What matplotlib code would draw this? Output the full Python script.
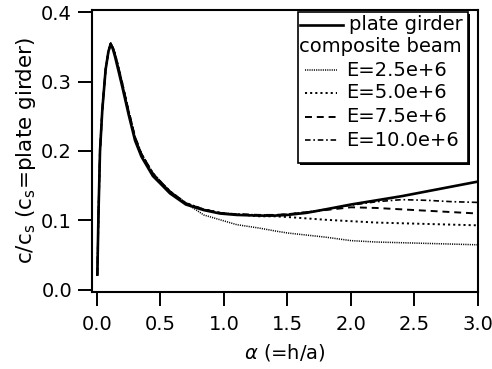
import matplotlib
matplotlib.use("Agg")
import matplotlib.pyplot as plt
from matplotlib.patches import Rectangle
from matplotlib.lines import Line2D

plt.rcParams['font.family'] = ['DejaVu Sans']
plt.rcParams['lines.scale_dashes'] = False
plt.rcParams['mathtext.fontset'] = 'dejavusans'

# ---- data ----
alpha = [0.003, 0.012, 0.024, 0.042, 0.068, 0.09, 0.108, 0.125, 0.142, 0.17,
         0.2, 0.25, 0.3, 0.35, 0.44, 0.5, 0.575, 0.7, 0.84, 0.97,
         1.1, 1.28, 1.4, 1.5, 1.65, 1.8, 2.0, 2.2, 2.4, 2.6, 2.8, 3.0]

plate_girder = [0.022, 0.110, 0.200, 0.259, 0.317, 0.343, 0.354, 0.347, 0.336, 0.315,
                0.292, 0.252, 0.215, 0.192, 0.164, 0.153, 0.139, 0.123, 0.115, 0.110,
                0.108, 0.107, 0.107, 0.108, 0.111, 0.116, 0.123, 0.129, 0.135, 0.142, 0.149, 0.156]

e_10_0 = [0.022, 0.110, 0.200, 0.259, 0.317, 0.343, 0.355, 0.349, 0.340, 0.320,
          0.297, 0.257, 0.220, 0.196, 0.168, 0.156, 0.142, 0.125, 0.116, 0.111,
          0.109, 0.108, 0.108, 0.109, 0.112, 0.116, 0.122, 0.127, 0.130, 0.129, 0.127, 0.126]

e_7_5 = [0.022, 0.110, 0.200, 0.259, 0.317, 0.343, 0.355, 0.349, 0.340, 0.320,
         0.297, 0.257, 0.220, 0.196, 0.168, 0.156, 0.142, 0.125, 0.116, 0.111,
         0.109, 0.108, 0.108, 0.109, 0.112, 0.115, 0.119, 0.118, 0.116, 0.114, 0.112, 0.110]

e_5_0 = [0.022, 0.110, 0.200, 0.259, 0.317, 0.343, 0.355, 0.349, 0.340, 0.320,
         0.297, 0.257, 0.220, 0.196, 0.168, 0.156, 0.142, 0.125, 0.116, 0.111,
         0.109, 0.106, 0.106, 0.105, 0.103, 0.101, 0.099, 0.097, 0.096, 0.095, 0.094, 0.093]

e_2_5 = [0.022, 0.110, 0.200, 0.259, 0.317, 0.343, 0.355, 0.349, 0.340, 0.320,
         0.297, 0.257, 0.220, 0.196, 0.168, 0.156, 0.142, 0.125, 0.108, 0.101,
         0.094, 0.089, 0.085, 0.082, 0.079, 0.076, 0.071, 0.069, 0.068, 0.067, 0.066, 0.065]

x_ticks = [0.0, 0.5, 1.0, 1.5, 2.0, 2.5, 3.0]
y_ticks = [0.0, 0.1, 0.2, 0.3, 0.4]
legend_labels = ["plate girder", "composite beam", "E=2.5e+6", "E=5.0e+6", "E=7.5e+6", "E=10.0e+6"]

# ---- styles ----
styles = [
    dict(color='black', lw=1.1, dashes=(0.8, 0.8)),            # E=2.5e+6
    dict(color='black', lw=1.4, dashes=(1.5, 2.2)),            # E=5.0e+6
    dict(color='black', lw=1.4, dashes=(5.0, 3.5)),            # E=7.5e+6
    dict(color='black', lw=1.2, dashes=(4.0, 2.0, 1.2, 2.0)),  # E=10.0e+6
]
solid_style = dict(color='black', lw=1.9, linestyle='-')

fig = plt.figure(figsize=(4.92, 3.69), dpi=100)
ax = fig.add_axes([91.5 / 492, (369 - 291.5) / 369, (478 - 91.5) / 492, (291.5 - 10) / 369])

series = [e_2_5, e_5_0, e_7_5, e_10_0]
for vals, st in zip(series, styles):
    ax.plot(alpha, vals, **st)
ax.plot(alpha, plate_girder, **solid_style)

ax.set_xlim(-0.043, 3.0)
ax.set_ylim(-0.0022, 0.4029)
ax.set_xticks(x_ticks)
ax.set_xticklabels([f"{v:.1f}" for v in x_ticks])
ax.set_yticks(y_ticks)
ax.set_yticklabels([f"{v:.1f}" for v in y_ticks])
ax.tick_params(direction='out', length=10, width=1.4, labelsize=14, pad=4)
ax.tick_params(axis='x', pad=7)
for s in ax.spines.values():
    s.set_linewidth(1.5)

ax.set_xlabel(r"$\alpha$ (=h/a)", fontsize=14, labelpad=6)
ax.set_ylabel(r"c/c$_\mathregular{s}$ (c$_\mathregular{s}$=plate girder)", fontsize=15.5, labelpad=2)

# ---- legend (drawn manually to match reference layout) ----
def axx(px):
    return (px - 91.5) / 386.5

def axy(py):
    return (291.5 - py) / 281.5

bx0, bx1 = axx(298), axx(468)
by0, by1 = axy(163), axy(12)
shadow = Rectangle((bx0 + 1.8 / 386.5, by0 - 1.8 / 281.5), bx1 - bx0, by1 - by0,
                   transform=ax.transAxes, facecolor='black', edgecolor='black', lw=0, zorder=5)
ax.add_patch(shadow)
box = Rectangle((bx0, by0), bx1 - bx0, by1 - by0, transform=ax.transAxes,
                facecolor='white', edgecolor='black', lw=1.2, zorder=6)
ax.add_patch(box)

rows_py = [25, 47, 70, 93, 117, 140]
# row 1: plate girder
ax.add_line(Line2D([axx(300), axx(343)], [axy(rows_py[0])] * 2, transform=ax.transAxes,
                   zorder=7, **solid_style))
ax.text(axx(349), axy(rows_py[0]), legend_labels[0], transform=ax.transAxes, fontsize=14,
        va='center', ha='left', zorder=7)
# row 2: composite beam header
ax.text(axx(299.5), axy(rows_py[1]), legend_labels[1], transform=ax.transAxes, fontsize=14,
        va='center', ha='left', zorder=7)
# rows 3-6
for i, st in enumerate(styles):
    py = rows_py[i + 2]
    ax.add_line(Line2D([axx(305), axx(337)], [axy(py)] * 2, transform=ax.transAxes,
                       zorder=7, **st))
    ax.text(axx(346), axy(py), legend_labels[i + 2], transform=ax.transAxes, fontsize=14,
            va='center', ha='left', zorder=7)

fig.savefig("out.png", dpi=100)
